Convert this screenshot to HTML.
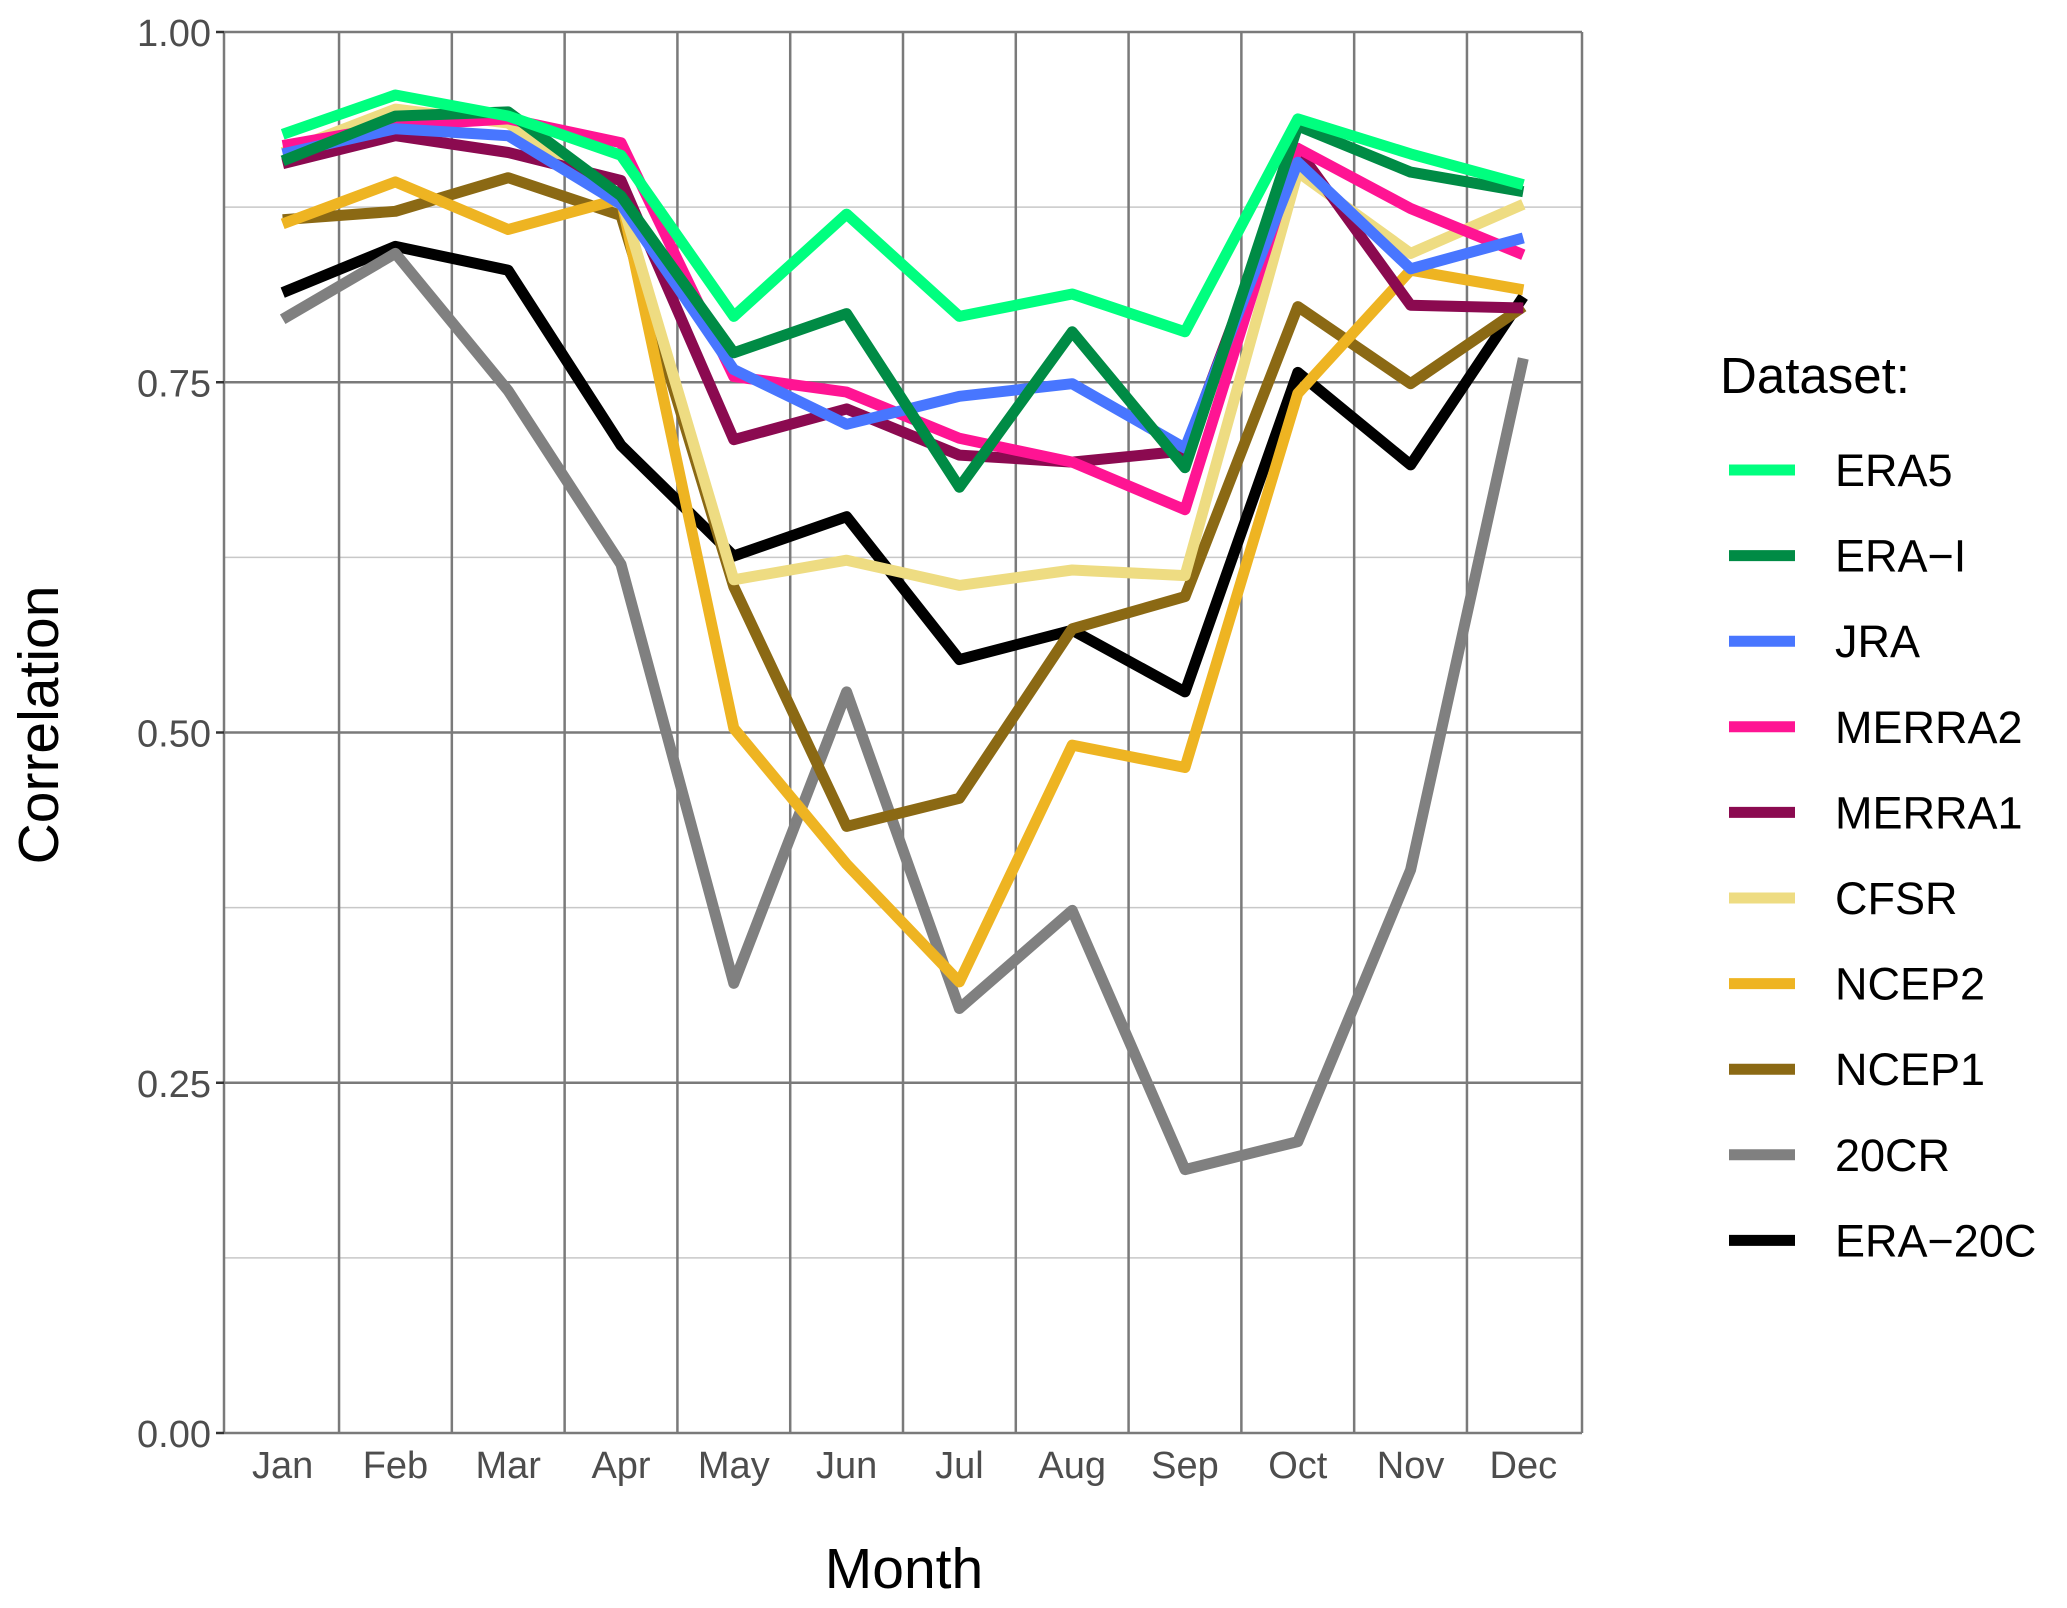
<!DOCTYPE html>
<html><head><meta charset="utf-8"><style>
html,body{margin:0;padding:0;background:#fff;}
svg{display:block;font-family:"Liberation Sans",Arial,sans-serif;}
</style></head><body>
<svg id="chart" width="2067" height="1608" viewBox="0 0 2067 1608">
<g id="grid"></g>
<g id="series"></g>
<g id="axes"></g>
<text x="904" y="1588" font-size="57" text-anchor="middle" fill="#000">Month</text>
<text transform="translate(58,725) rotate(-90)" font-size="57" text-anchor="middle" fill="#000">Correlation</text>
<text x="1720" y="393" font-size="51" fill="#000">Dataset:</text>
<g id="legend"></g>
</svg>
<script>
const months = ["Jan","Feb","Mar","Apr","May","Jun","Jul","Aug","Sep","Oct","Nov","Dec"];
const yTicks = [0, 0.25, 0.5, 0.75, 1.0];
const yTickLabels = ["0.00","0.25","0.50","0.75","1.00"];
const seriesNames = ["ERA5","ERA\u2212I","JRA","MERRA2","MERRA1","CFSR","NCEP2","NCEP1","20CR","ERA\u221220C"];
const seriesColors = ["#00FF7F","#008B45","#4876FF","#FF1493","#8B0A50","#EEDC82","#EEB422","#8B6914","#808080","#000000"];
const era5   = [.927,.955,.940,.912,.797,.870,.797,.813,.786,.938,.913,.891];
const eraI   = [.908,.940,.943,.883,.771,.799,.675,.786,.689,.933,.900,.886];
const jra    = [.913,.931,.926,.877,.759,.720,.740,.749,.703,.907,.831,.853];
const merra2 = [.919,.933,.938,.921,.754,.743,.710,.693,.659,.917,.874,.841];
const merra1 = [.906,.926,.914,.894,.709,.731,.698,.693,.701,.916,.805,.803];
const cfsr   = [.914,.945,.935,.881,.609,.623,.605,.616,.612,.900,.842,.877];
const ncep2  = [.863,.893,.859,.881,.503,.406,.322,.491,.475,.742,.830,.816];
const ncep1  = [.866,.872,.896,.869,.604,.433,.453,.574,.597,.804,.749,.804];
const cr20   = [.795,.842,.744,.620,.321,.529,.303,.373,.188,.208,.402,.767];
const era20c = [.814,.847,.830,.705,.626,.654,.552,.573,.529,.757,.691,.811];
const seriesValues = [era5,eraI,jra,merra2,merra1,cfsr,ncep2,ncep1,cr20,era20c];

const NS="http://www.w3.org/2000/svg";
const L=224,R=1582,T=32,B=1433;
const step=(R-L)/(months.length-1+1.04);
const x=i=>L+step*(0.52+i);
const y=v=>B-(B-T)*v;
function mk(tag,attrs,parent){const e=document.createElementNS(NS,tag);for(const k in attrs)e.setAttribute(k,attrs[k]);parent.appendChild(e);return e;}
const grid=document.getElementById('grid'),axes=document.getElementById('axes'),ser=document.getElementById('series'),leg=document.getElementById('legend');
for(let k=0;k<4;k++){const v=0.125+0.25*k;
 const ln=mk('line',{x1:L,x2:R,y1:y(v),y2:y(v),stroke:'#c8c8c8','stroke-width':1.5},grid);
 
 }
yTicks.forEach((v,i)=>{
 const ln=mk('line',{x1:L,x2:R,y1:y(v),y2:y(v),stroke:'#7a7a7a','stroke-width':2.5},grid);
 
 
 const tk=mk('line',{x1:L-8,x2:L,y1:y(v),y2:y(v),stroke:'#333','stroke-width':2.5},axes);
 
 
 const t=mk('text',{x:L-13,y:y(v)+14,'font-size':38,'text-anchor':'end',fill:'#4d4d4d'},axes);
 t.textContent=yTickLabels[i];
 
 
});
for(let i=0;i<months.length-1;i++){const xv=(x(i)+x(i+1))/2;
 const ln=mk('line',{x1:xv,x2:xv,y1:T,y2:B,stroke:'#7a7a7a','stroke-width':2.5},grid);
 
 }
const bl=mk('line',{x1:L,x2:L,y1:T,y2:B,stroke:'#7a7a7a','stroke-width':2.5},grid);


const br=mk('line',{x1:R,x2:R,y1:T,y2:B,stroke:'#7a7a7a','stroke-width':2.5},grid);


months.forEach((m,i)=>{
 const t=mk('text',{x:x(i),y:1478,'font-size':38,'text-anchor':'middle',fill:'#4d4d4d'},axes);
 t.textContent=m;
 
 
});
for(let s=seriesValues.length-1;s>=0;s--){
 const pts=seriesValues[s].map((v,i)=>x(i).toFixed(1)+','+y(v).toFixed(1)).join(' ');
 const p=mk('polyline',{points:pts,fill:'none',stroke:seriesColors[s],'stroke-width':11,'stroke-linejoin':'round'},ser);
 
 
}
seriesNames.forEach((n,s)=>{
 const yy=470+85.6*s;
 const g=mk('g',{},leg);
 
 
 mk('line',{x1:1729,x2:1795,y1:yy,y2:yy,stroke:seriesColors[s],'stroke-width':11},g);
 const t=mk('text',{x:1835,y:yy+16,'font-size':45,fill:'#000'},g);
 t.textContent=n;
});
</script>
</body></html>
